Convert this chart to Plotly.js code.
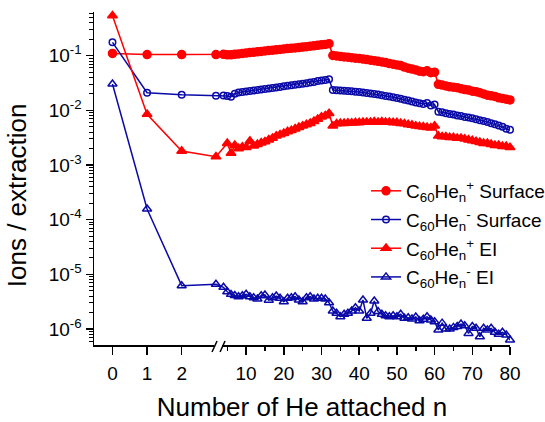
<!DOCTYPE html>
<html>
<head>
<meta charset="utf-8">
<script src="https://cdn.plot.ly/plotly-3.0.1.min.js"></script>
<style>html,body{margin:0;padding:0;background:#fff;}#chart{width:545px;height:422px;}</style>
</head>
<body>
<div id="chart"></div>
<script>
// ---- data ----
// left (expanded) segment of the broken axis
const nLeft = [0, 1, 2];
// right segment, n = 2, 4..80
const nRightSurf = [2,4,5,6,7,8,9,10,11,12,13,14,15,16,17,18,19,20,21,22,23,24,25,26,27,28,29,30,31,32,33,34,35,36,37,38,39,40,41,42,43,44,45,46,47,48,49,50,51,52,53,54,55,56,57,58,59,60,61,62,63,64,65,66,67,68,69,70,71,72,73,74,75,76,77,78,79,80];
// right segment for C60He_n+ EI, n = 2, 5..80
const nRightEIpos = [2,5,6,7,8,9,10,11,12,13,14,15,16,17,18,19,20,21,22,23,24,25,26,27,28,29,30,31,32,33,34,35,36,37,38,39,40,41,42,43,44,45,46,47,48,49,50,51,52,53,54,55,56,57,58,59,60,61,62,63,64,65,66,67,68,69,70,71,72,73,74,75,76,77,78,79,80];
const nRightEIneg = nRightSurf;

const surfPosLeft = [0.110, 0.105, 0.105];
const surfPosRight = [0.105,
  0.106,0.104,0.104,0.106,0.108,0.110,0.112,0.114,0.116,0.118,0.120,0.122,0.124,0.126,0.128,0.130,0.133,0.135,0.137,0.139,0.141,0.144,0.146,0.149,0.152,0.155,0.158,0.161,0.166,
  0.101,0.099,0.097,0.095,0.094,0.092,0.090,0.089,0.087,0.085,0.083,0.081,0.079,0.077,0.075,0.072,0.070,0.068,0.066,0.062,0.059,0.057,0.055,0.052,0.051,0.053,0.049,0.050,
  0.030,0.029,0.028,0.027,0.0265,0.026,0.025,0.024,0.0235,0.0225,0.022,0.021,0.020,0.019,0.0185,0.018,0.017,0.0165,0.016,0.0155];

const surfNegLeft = [0.176, 0.021, 0.0194];
const surfNegRight = [0.0186,
  0.0188,0.0184,0.0178,0.0202,0.0212,0.0217,0.0222,0.0226,0.0231,0.0236,0.0241,0.0246,0.0251,0.0257,0.0263,0.0269,0.0276,0.0282,0.0288,0.0294,0.0300,0.0308,0.0315,0.0323,0.0332,0.0343,0.0353,0.0360,0.0370,
  0.0236,0.0234,0.0231,0.0228,0.0226,0.0223,0.0220,0.0216,0.0212,0.0208,0.0204,0.0199,0.0195,0.0190,0.0184,0.0179,0.0174,0.0168,0.0163,0.0157,0.0151,0.0146,0.0140,0.0135,0.0131,0.0136,0.0123,0.0128,
  0.0094,0.0092,0.0089,0.0086,0.0084,0.0081,0.0079,0.0076,0.0074,0.0072,0.0069,0.0066,0.0064,0.0061,0.0058,0.0056,0.0053,0.0050,0.0046,0.0044];

const eiPosLeft = [0.54, 0.0085, 0.0018];
const eiPosRight = [0.00142,
  0.00250,0.00165,0.00230,0.00200,0.00215,0.00210,0.00275,0.00225,0.00240,0.00255,0.00268,0.00290,0.00310,0.00340,0.00360,0.00380,0.00410,0.00430,0.00460,0.00490,0.00520,0.00550,0.00580,0.00630,0.00690,0.00760,0.00800,0.00880,
  0.0052,0.0057,0.0058,0.0058,0.0059,0.0059,0.0060,0.0060,0.0061,0.0061,0.0061,0.0062,0.0061,0.0062,0.0061,0.0061,0.0060,0.0060,0.0058,0.0057,0.0055,0.0054,0.0052,0.0051,0.0050,0.0049,0.0048,0.0052,
  0.0034,0.0033,0.0033,0.0032,0.0032,0.0031,0.0031,0.0030,0.0029,0.0028,0.0027,0.0026,0.0025,0.0025,0.0024,0.0023,0.0023,0.0022,0.0022,0.0021];

const eiNegLeft = [0.0303, 1.57e-4, 6.2e-6];
const eiNegRight = [6.6e-6,
  5.8e-6,4.8e-6,4.3e-6,4.1e-6,3.9e-6,4.07e-6,4.31e-6,3.9e-6,3.74e-6,3.54e-6,4.07e-6,4.2e-6,3.37e-6,3.74e-6,4.0e-6,3.64e-6,3.16e-6,3.64e-6,3.74e-6,3.9e-6,3.4e-6,3.16e-6,3.74e-6,3.9e-6,3.54e-6,3.64e-6,3.64e-6,3.54e-6,3.03e-6,
  2.13e-6,1.94e-6,1.68e-6,1.86e-6,1.94e-6,2.13e-6,2.45e-6,2.13e-6,3.4e-6,1.57e-6,1.94e-6,3.25e-6,2.08e-6,1.86e-6,1.75e-6,1.68e-6,1.75e-6,1.68e-6,1.86e-6,1.57e-6,1.61e-6,1.53e-6,1.66e-6,1.41e-6,1.51e-6,1.68e-6,1.46e-6,1.36e-6,
  9.6e-7,1.28e-6,1.0e-6,1.0e-6,1.07e-6,1.11e-6,1.23e-6,1.15e-6,8.3e-7,1.11e-6,1.03e-6,7.2e-7,1.03e-6,9.6e-7,1.03e-6,8.7e-7,8.0e-7,8.7e-7,7.8e-7,6.3e-7];

const seriesNames = [
  'C<sub>60</sub>He<sub>n</sub><sup>+</sup> Surface',
  'C<sub>60</sub>He<sub>n</sub><sup>-</sup> Surface',
  'C<sub>60</sub>He<sub>n</sub><sup>+</sup> EI',
  'C<sub>60</sub>He<sub>n</sub><sup>-</sup> EI'
];
const xTickN = [10, 20, 30, 40, 50, 60, 70, 80];
const xMinorN = [5, 15, 25, 35, 45, 55, 65, 75];
const yTickExp = [-6, -5, -4, -3, -2, -1];
const xTitle = 'Number of He attached n';
const yTitle = 'Ions / extraction';

// ---- broken-axis scale: left segment is stretched ----
const LEFT_ZERO = -25.45, LEFT_STEP = 9.18;
const leftX = n => LEFT_ZERO + n * LEFT_STEP;
const build = (nl, nr) => nl.map(leftX).concat(nr);

const RED = '#FF0000', BLUE = '#0A0AA8';
function trace(name, x, y, color, symbol, size, group) {
  return {
    type: 'scatter', mode: 'lines+markers', name: name, x: x, y: y,
    legendgroup: group, cliponaxis: false,
    line: {color: color, width: 1.5},
    marker: {symbol: symbol, size: size, color: color, line: {color: color, width: 1.5}}
  };
}
const data = [
  trace(seriesNames[0], build(nLeft, nRightSurf), surfPosLeft.concat(surfPosRight), RED, 'circle', 8, 'a'),
  trace(seriesNames[1], build(nLeft, nRightSurf), surfNegLeft.concat(surfNegRight), BLUE, 'circle-open', 6.5, 'b'),
  trace(seriesNames[2], build(nLeft, nRightEIpos), eiPosLeft.concat(eiPosRight), RED, 'triangle-up', 8.5, 'c'),
  trace(seriesNames[3], build(nLeft, nRightEIneg), eiNegLeft.concat(eiNegRight), BLUE, 'triangle-up-open', 8, 'd')
];

const yMinor = [];
for (let e = -7; e <= 0; e++) for (let m = 2; m <= 9; m++) yMinor.push(m * Math.pow(10, e));

const FONT = 'Liberation Sans, Arial, sans-serif';
const layout = {
  width: 545, height: 422,
  margin: {l: 94, r: 35, t: 12, b: 77, autoexpand: false},
  paper_bgcolor: '#fff', plot_bgcolor: '#fff',
  font: {family: FONT, color: '#000'},
  showlegend: true,
  legend: {xref: 'container', yref: 'container', x: 0.6716, y: 0.5925, xanchor: 'left', yanchor: 'top',
           font: {size: 19, family: FONT},
           bgcolor: 'rgba(0,0,0,0)', tracegroupgap: 1, itemwidth: 30},
  xaxis: {
    range: [-30.35, 80], showgrid: false, zeroline: false,
    showline: true, linecolor: '#000', linewidth: 1.5,
    ticks: 'outside', ticklen: 8, tickwidth: 1.5, tickcolor: '#000',
    ticklabelstandoff: 3,
    tickmode: 'array',
    tickvals: nLeft.map(leftX).concat(xTickN),
    ticktext: nLeft.map(String).concat(xTickN.map(String)),
    minor: {tickmode: 'array', tickvals: xMinorN, ticks: 'outside', ticklen: 4, tickwidth: 1.5, tickcolor: '#000', showgrid: false},
    tickfont: {size: 19, family: FONT},
    title: {text: xTitle, font: {size: 26, family: FONT}, standoff: 25}
  },
  yaxis: {
    type: 'log', range: [-6.293, -0.2], showgrid: false, zeroline: false,
    showline: true, linecolor: '#000', linewidth: 1.5,
    ticks: 'outside', ticklen: 7, tickwidth: 1.5, tickcolor: '#000',
    tickmode: 'array',
    tickvals: yTickExp.map(e => Math.pow(10, e)),
    ticktext: yTickExp.map(e => '10<sup>' + e + '</sup>'),
    minor: {tickmode: 'array', tickvals: yMinor, ticks: 'outside', ticklen: 4, tickwidth: 1, tickcolor: '#000', showgrid: false},
    tickfont: {size: 19, family: FONT}
  },
  annotations: [
    {text: yTitle, xref: 'paper', yref: 'paper', x: -0.185, y: 0.45, xanchor: 'center', yanchor: 'middle',
     textangle: -90, showarrow: false, font: {size: 26, family: FONT, color: '#000'}}
  ],
  shapes: [
    {type: 'rect', xref: 'x', yref: 'paper', x0: 1.6, x1: 3.6, y0: -0.01, y1: 0.01, fillcolor: '#fff', line: {width: 0}, layer: 'above'},
    {type: 'line', xref: 'x', yref: 'paper', x0: 0.96, x1: 2.29, y0: -0.021, y1: 0.012, line: {color: '#000', width: 1.5}},
    {type: 'line', xref: 'x', yref: 'paper', x0: 3.09, x1: 4.41, y0: -0.021, y1: 0.012, line: {color: '#000', width: 1.5}}
  ]
};
Plotly.newPlot('chart', data, layout, {displayModeBar: false, staticPlot: true});
</script>
</body>
</html>
